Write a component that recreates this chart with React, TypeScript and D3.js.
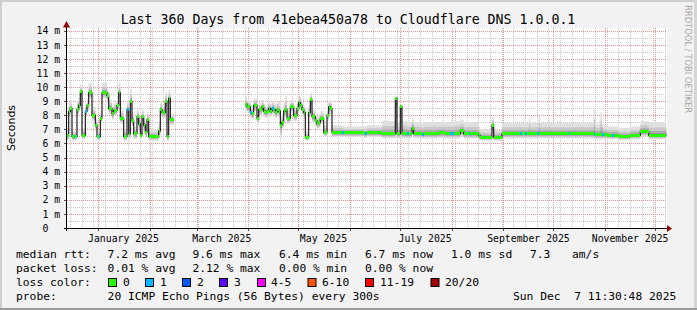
import React from 'react';
import * as d3 from 'd3';

// [day offset from graph start, median ms, smoke low ms, smoke high ms, lost pings]
type Run = [number, number, number, number, number];

const TITLE = 'Last 360 Days from 41ebea450a78 to Cloudflare DNS 1.0.0.1';
const Y_LABEL = 'Seconds';
const WATERMARK = 'RRDTOOL / TOBI OETIKER';
const GRAPH_START = new Date(2024, 11, 13, 3, 0, 0);
const GRAPH_DAYS = 360;
const Y_MAX = 14.2;

const segJanFeb: Run[] = [
  [0, 6.55, 6.2, 7.1, 0], [1, 8.27, 7.9, 8.9, 0], [2, 8.5, 8.1, 9.0, 0], [3, 6.5, 6.2, 7.0, 0],
  [4, 6.5, 6.2, 6.9, 1], [5, 6.5, 6.2, 7.0, 0], [6, 8.4, 8.0, 9.0, 0], [7, 8.7, 8.3, 9.3, 0],
  [8, 9.7, 9.2, 10.2, 0], [9, 6.6, 6.3, 7.1, 0], [11, 8.27, 7.9, 8.8, 1], [12, 8.7, 8.3, 9.2, 0],
  [13, 9.6, 9.2, 10.3, 0], [15, 8.0, 7.6, 8.6, 0], [17, 7.3, 6.9, 7.8, 0], [18, 6.5, 6.2, 7.0, 0],
  [19, 6.5, 6.2, 6.9, 1], [20, 7.8, 7.4, 8.3, 0], [21, 9.6, 9.2, 10.3, 0], [24, 9.4, 9.0, 9.9, 0],
  [25, 8.5, 8.1, 9.1, 0], [27, 8.1, 7.7, 8.6, 0], [28, 8.35, 8.0, 8.9, 0], [30, 8.7, 8.3, 9.3, 0],
  [31, 9.6, 9.2, 10.3, 0], [32, 7.8, 7.4, 8.4, 0], [34, 6.5, 6.2, 7.0, 0], [36, 8.4, 8.0, 9.0, 1],
  [37, 6.7, 6.3, 7.3, 0], [38, 9.0, 8.5, 9.9, 0], [39, 7.6, 7.2, 8.2, 0], [40, 6.7, 6.3, 7.2, 0],
  [42, 7.9, 7.5, 8.5, 0], [43, 7.4, 7.0, 8.0, 0], [44, 6.6, 6.3, 7.1, 0], [45, 7.9, 7.5, 8.4, 0],
  [46, 7.3, 6.9, 7.8, 0], [47, 6.8, 6.4, 7.3, 0], [48, 7.7, 7.3, 8.2, 0], [49, 6.5, 6.2, 7.0, 0],
  [55, 6.9, 6.5, 7.4, 0], [56, 8.4, 8.0, 9.0, 0], [57, 8.2, 7.8, 8.7, 0], [59, 9.0, 8.6, 9.6, 0],
  [60, 6.5, 6.2, 7.0, 0], [61, 9.2, 8.8, 9.8, 0], [62, 7.7, 7.3, 8.1, 0],
];
const segJanFebEnd = 64;

const segAprJun: Run[] = [
  [107, 8.8, 8.3, 9.3, 0], [108, 8.6, 8.2, 9.1, 0], [110, 8.2, 7.8, 8.7, 1], [111, 8.1, 7.7, 8.6, 0],
  [112, 8.7, 8.3, 9.2, 0], [114, 7.8, 7.4, 8.3, 0], [115, 8.4, 8.0, 8.9, 0], [117, 8.6, 8.2, 9.1, 0],
  [118, 8.3, 7.9, 8.8, 0], [119, 8.2, 7.8, 8.7, 0], [120, 8.3, 7.9, 8.8, 0], [121, 8.5, 8.1, 9.0, 0],
  [122, 8.3, 7.9, 8.8, 0], [123, 8.5, 8.1, 9.0, 1], [124, 8.4, 8.0, 8.9, 0], [125, 8.2, 7.8, 8.8, 0],
  [126, 8.4, 8.0, 9.0, 0], [127, 8.3, 7.9, 8.9, 0], [128, 7.3, 6.4, 8.0, 0], [129, 7.5, 7.1, 8.1, 0],
  [130, 8.3, 7.9, 8.9, 0], [131, 8.4, 8.0, 9.4, 0], [132, 7.8, 7.4, 8.4, 0], [134, 8.6, 8.2, 9.1, 0],
  [136, 8.0, 7.6, 8.5, 0], [138, 8.5, 8.1, 9.0, 0], [139, 8.9, 8.5, 9.5, 0], [140, 8.7, 8.3, 9.2, 0],
  [141, 8.4, 8.0, 8.9, 0], [142, 8.2, 7.8, 8.7, 0], [143, 6.45, 6.2, 6.9, 0], [145, 8.2, 7.8, 8.7, 0],
  [146, 9.1, 8.6, 9.6, 0], [147, 7.9, 7.5, 8.4, 0], [149, 7.6, 7.2, 8.1, 0], [150, 7.4, 7.0, 7.9, 0],
  [151, 7.5, 7.1, 8.0, 0], [152, 7.8, 7.4, 8.3, 0], [154, 6.8, 6.5, 7.3, 0], [156, 8.0, 7.6, 8.5, 0],
  [157, 8.6, 8.2, 9.1, 0], [158, 8.5, 8.1, 9.0, 0],
];

const segStable: Run[] = [
  [159, 6.78, 6.45, 7.3, 0], [165, 6.78, 6.45, 7.3, 1], [166, 6.78, 6.45, 7.2, 0],
  [178, 6.72, 6.4, 7.25, 0], [179, 6.72, 6.4, 7.2, 1], [180, 6.75, 6.45, 7.3, 0],
  [189, 6.7, 6.35, 7.6, 0], [197, 9.2, 6.4, 9.35, 0], [198, 6.7, 6.35, 7.5, 0],
  [200, 8.6, 6.4, 8.7, 0], [201, 6.7, 6.35, 7.6, 0], [204, 6.7, 6.35, 7.5, 1],
  [205, 6.7, 6.35, 7.5, 0], [207, 7.1, 6.6, 7.8, 0], [208, 6.7, 6.35, 7.5, 0],
  [213, 6.65, 6.35, 7.4, 1], [214, 6.7, 6.35, 7.5, 0], [223, 6.75, 6.4, 7.5, 0],
  [227, 6.7, 6.35, 7.5, 0], [230, 6.7, 6.35, 7.5, 1], [232, 6.7, 6.35, 7.6, 0],
  [236, 6.9, 6.5, 7.7, 0], [238, 6.68, 6.35, 7.5, 0], [241, 6.68, 6.35, 7.5, 1],
  [242, 6.68, 6.35, 7.5, 0], [247, 6.55, 6.25, 7.2, 0], [248, 6.45, 6.2, 7.0, 0],
  [255, 7.3, 6.8, 7.9, 0], [256, 6.45, 6.2, 7.0, 0], [261, 6.7, 6.35, 7.45, 0],
  [272, 6.7, 6.35, 7.45, 1], [273, 6.7, 6.35, 7.45, 0], [275, 6.7, 6.35, 7.45, 1],
  [276, 6.7, 6.35, 7.45, 0], [277, 6.7, 6.35, 7.8, 0], [278, 6.7, 6.35, 7.45, 0],
  [282, 6.7, 6.35, 7.45, 1], [283, 6.7, 6.35, 7.95, 0], [284, 6.7, 6.35, 7.45, 0],
  [289, 6.7, 6.35, 7.6, 0], [290, 6.7, 6.35, 7.45, 0], [301, 6.7, 6.35, 7.45, 1],
  [302, 6.7, 6.35, 7.45, 0], [316, 6.65, 6.3, 8.4, 1], [317, 6.65, 6.3, 7.4, 0],
  [320, 6.65, 6.3, 8.2, 0], [321, 6.65, 6.3, 7.4, 1], [322, 6.65, 6.3, 7.3, 0],
  [324, 6.6, 6.3, 7.2, 0], [327, 6.6, 6.3, 7.2, 1], [328, 6.6, 6.3, 7.2, 0],
  [331, 6.5, 6.25, 7.1, 0], [338, 6.6, 6.3, 7.2, 0], [344, 6.85, 6.5, 7.6, 0],
  [349, 6.6, 6.3, 7.5, 0],
];
const segStableEnd = 359.6;

const yTickValues = d3.range(0, 15);
const labelMonths = ['2025-01', '2025-03', '2025-05', '2025-07', '2025-09', '2025-11'];

const rttLabel = 'median rtt:';
const rttStats = ['7.2 ms avg', '9.6 ms max', '6.4 ms min', '6.7 ms now', '1.0 ms sd', '7.3', 'am/s'];
const lossLabel = 'packet loss:';
const lossStats = ['0.01 % avg', '2.12 % max', '0.00 % min', '0.00 % now'];
const colorLabel = 'loss color:';
const lossLegend: [string, string][] = [
  ['0', '#26ff00'], ['1', '#00b8ff'], ['2', '#0059ff'], ['3', '#5e00ff'],
  ['4-5', '#ff00ff'], ['6-10', '#ff5500'], ['11-19', '#ff0000'], ['20/20', '#a10000'],
];
const probeLabel = 'probe:';
const probeText = '20 ICMP Echo Pings (56 Bytes) every 300s';
const stampText = 'Sun Dec  7 11:30:48 2025';

// ---- layout ----
const W = 697, H = 310;
const X0 = 67, X1 = 667, YB = 228, YT = 28;
const MONO = "'DejaVu Sans Mono', monospace";
const SANS = "'DejaVu Sans', sans-serif";
const STAT_X = [107.6, 192.4, 279, 365, 451, 530, 572];
const SWATCH_X = [108, 145, 182, 219, 257, 307.5, 365, 430.5];
const LEG_TEXT_X = [123, 160, 197, 234, 271, 322, 380, 445];
const BAND_FRAC = [[1, 1], [0.75, 0.6], [0.5, 0.32], [0.25, 0.12]];
const BAND_COL = ['#e0e0e0', '#c9c9c9', '#ababab', '#878787'];

function lossColor(n: number) {
  const idx = n <= 0 ? 0 : n === 1 ? 1 : n === 2 ? 2 : n === 3 ? 3 : n <= 5 ? 4 : n <= 10 ? 5 : n <= 19 ? 6 : 7;
  return lossLegend[idx][1];
}

const END = new Date(GRAPH_START.getTime() + GRAPH_DAYS * 864e5);
const dayDate = (d: number) => new Date(GRAPH_START.getTime() + d * 864e5);
const x = d3.scaleTime().domain([GRAPH_START, END]).range([X0, X1]);
const y = d3.scaleLinear().domain([0, Y_MAX]).range([YB, YT]);
const sx = (v: Date) => Math.round(x(v)) + 0.5;
const sy = (v: number) => Math.round(y(v)) + 0.5;

type P = { d: number; m: number; lo: number; hi: number; loss: number };
const segments: P[][] = [
  [segJanFeb, segJanFebEnd] as [Run[], number],
  [segAprJun.concat(segStable), segStableEnd] as [Run[], number],
].map(([runs, end]) => {
  const pts = runs.map(r => ({ d: r[0], m: r[1], lo: r[2], hi: r[3], loss: r[4] }));
  const last = pts[pts.length - 1];
  return [...pts, { ...last, d: end }];
});

export default function App() {
  const minorY = d3.range(0.5, 14.5, 1);
  const majorY = d3.range(1, 15, 1);
  const weeks = d3.timeSunday.range(GRAPH_START, END);
  const months = d3.timeMonth.range(d3.timeDay.offset(GRAPH_START, 1), END);
  const fmt = d3.timeFormat('%B %Y');
  const parse = d3.timeParse('%Y-%m');

  const medianLine = d3.line<P>().x(p => x(dayDate(p.d))).y(p => y(p.m)).curve(d3.curveStepAfter);

  return (
    <svg width={W} height={H} style={{ position: 'absolute', left: 0, top: 0, display: 'block' }}>
      <rect x={0} y={0} width={W} height={H} fill="#f2f2f2" />
      <rect x={0} y={0} width={W} height={2} fill="#cfcfcf" />
      <rect x={0} y={0} width={2} height={H} fill="#cfcfcf" />
      <rect x={W - 3} y={0} width={3} height={H} fill="#d6d6d6" />
      <rect x={0} y={H - 2} width={W} height={2} fill="#9a9a9a" />

      <rect x={X0} y={YT} width={X1 - X0} height={YB - YT} fill="#ffffff" />

      {/* minor grid */}
      <g stroke="#c8c8c8" strokeWidth={1} strokeDasharray="1,1" shapeRendering="crispEdges">
        {minorY.map(v => <line key={'my' + v} x1={X0} x2={X1} y1={sy(v)} y2={sy(v)} />)}
        {weeks.map(w => <line key={'wx' + w.getTime()} x1={sx(w)} x2={sx(w)} y1={YT} y2={YB} />)}
      </g>
      {/* major grid */}
      <g stroke="#f09090" strokeWidth={1} strokeDasharray="1,1" shapeRendering="crispEdges">
        {majorY.map(v => <line key={'My' + v} x1={X0} x2={X1} y1={sy(v)} y2={sy(v)} />)}
        {months.map(m => <line key={'Mx' + m.getTime()} x1={sx(m)} x2={sx(m)} y1={YT} y2={YB} />)}
      </g>

      {/* smoke */}
      {segments.map((pts, si) => (
        <g key={'s' + si}>
          {BAND_FRAC.map(([fl, fh], bi) => {
            const area = d3.area<P>()
              .x(p => x(dayDate(p.d)))
              .y0(p => y(p.m - fl * (p.m - p.lo)))
              .y1(p => y(p.m + fh * (p.hi - p.m)))
              .curve(d3.curveStepAfter);
            return <path key={bi} d={area(pts) || ''} fill={BAND_COL[bi]} />;
          })}
        </g>
      ))}

      {/* median connector */}
      {segments.map((pts, si) => (
        <path key={'ml' + si} d={medianLine(pts) || ''} fill="none" stroke="#202020" strokeWidth={1.2} />
      ))}
      {/* median bars coloured by loss */}
      <g shapeRendering="crispEdges">
        {segments.map((pts, si) =>
          pts.slice(0, -1).map((p, i) => {
            const xa = x(dayDate(p.d));
            const xb = x(dayDate(pts[i + 1].d));
            return (
              <rect key={si + '-' + i} x={xa} y={y(p.m) - 1.5} width={Math.max(1, xb - xa)} height={3} fill={lossColor(p.loss)} />
            );
          })
        )}
      </g>

      {/* axes */}
      <g stroke="#555" strokeWidth={1} shapeRendering="crispEdges">
        {majorY.map(v => <line key={'ty' + v} x1={X0 - 3} x2={X0} y1={sy(v)} y2={sy(v)} />)}
        {months.map(m => <line key={'tx' + m.getTime()} x1={sx(m)} x2={sx(m)} y1={YB} y2={YB + 3} />)}
      </g>
      <line x1={X0 - 3} x2={X1 + 1} y1={YB + 0.5} y2={YB + 0.5} stroke="#000" strokeWidth={1} />
      <line x1={X0 - 0.5} x2={X0 - 0.5} y1={YB + 3} y2={YT - 1} stroke="#000" strokeWidth={1} />
      <path d={`M${X0 - 0.5},${21} L${X0 - 4},${27.5} L${X0 + 3},${27.5} Z`} fill="#900000" />
      <path d={`M${X1 + 5},${YB + 0.5} L${X1},${YB - 3} L${X1},${YB + 4} Z`} fill="#900000" />

      {/* y tick labels */}
      <g fontFamily={MONO} fontSize={9.8} fill="#000">
        {yTickValues.map(v => (
          <g key={'yl' + v}>
            <text x={48.4} y={y(v) + 3.6} textAnchor="end">{v}</text>
            {v > 0 && <text x={60.2} y={y(v) + 3.6} textAnchor="end">m</text>}
          </g>
        ))}
        {labelMonths.map(s => {
          const dt = parse(s) as Date;
          const mid = new Date(dt.getFullYear(), dt.getMonth(), 16);
          return <text key={s} x={x(mid)} y={241.5} textAnchor="middle">{fmt(dt)}</text>;
        })}
      </g>

      <text transform="translate(14.5,128) rotate(-90)" textAnchor="middle" fontFamily={SANS} fontSize={11} fill="#000">{Y_LABEL}</text>
      <text x={348} y={24} textAnchor="middle" fontFamily={MONO} fontSize={13.25} fill="#000">{TITLE}</text>
      <text transform="translate(684.5,5) rotate(90)" fontFamily={SANS} fontSize={8.4} fill="#a8a8a8" textLength={108} lengthAdjust="spacing">{WATERMARK}</text>

      {/* legend */}
      <g fontFamily={MONO} fontSize={11.3} fill="#000" style={{ whiteSpace: 'pre' }}>
        <text x={16} y={258}>{rttLabel}</text>
        {rttStats.map((s, i) => <text key={'r' + i} x={STAT_X[i]} y={258}>{s}</text>)}
        <text x={16} y={272}>{lossLabel}</text>
        {lossStats.map((s, i) => <text key={'l' + i} x={STAT_X[i]} y={272}>{s}</text>)}
        <text x={16} y={286}>{colorLabel}</text>
        {lossLegend.map(([lab, col], i) => (
          <g key={'lg' + i}>
            <rect x={SWATCH_X[i] + 0.5} y={278.5} width={8} height={8} fill={col} stroke="#000" strokeWidth={1} />
            <text x={LEG_TEXT_X[i]} y={286}>{lab}</text>
          </g>
        ))}
        <text x={16} y={300}>{probeLabel}</text>
        <text x={STAT_X[0]} y={300}>{probeText}</text>
        <text x={513} y={300} xmlSpace="preserve">{stampText}</text>
      </g>
    </svg>
  );
}
